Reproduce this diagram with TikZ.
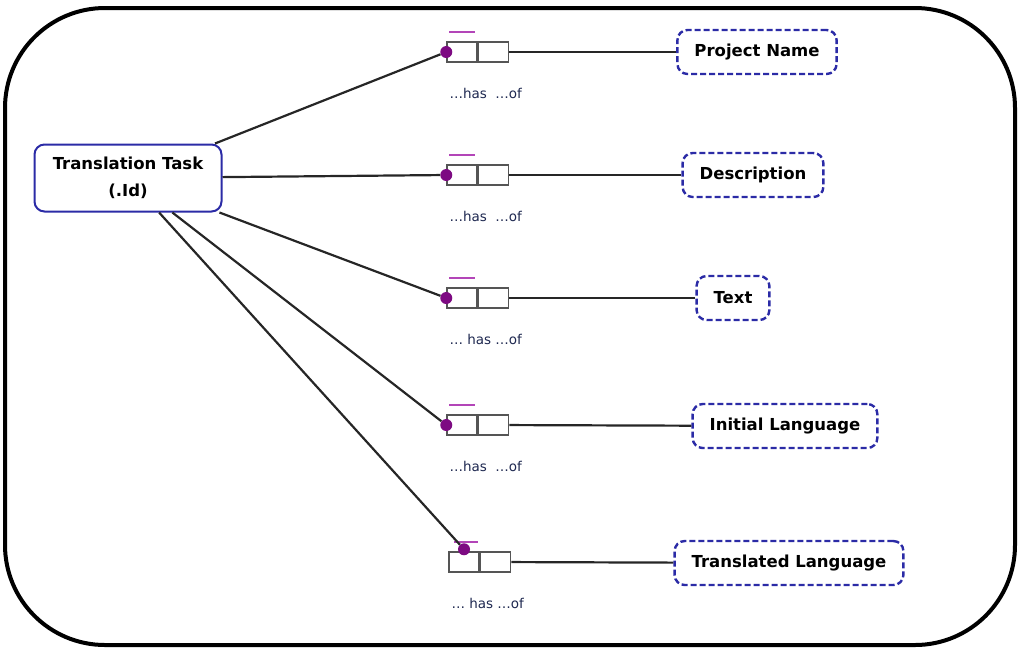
\documentclass[tikz,border=0pt]{standalone}
\usepackage{fontspec}
\setmainfont{DejaVu Sans}
\usetikzlibrary{positioning}

\definecolor{ent_blue}{HTML}{2B2BA6}
\definecolor{dot_purple}{HTML}{7D0A82}
\definecolor{bar_purple}{HTML}{B345B8}
\definecolor{cell_grey}{HTML}{555555}
\definecolor{label_ink}{HTML}{1E2850}

\begin{document}
\begin{tikzpicture}[x=1pt,y=-1pt,
	main_node/.style={draw=ent_blue,line width=2pt,rounded corners=10pt,fill=white,minimum width=187pt,minimum height=67pt,align=center,font=\bfseries\fontsize{16.5}{27}\selectfont},
	value_node/.style={draw=ent_blue,line width=2.4pt,dash pattern=on 6pt off 3pt,rounded corners=10pt,fill=white,minimum height=44pt,inner xsep=17pt,font=\bfseries\fontsize{16.5}{18}\selectfont},
	role_cell/.style={draw=cell_grey,line width=1.5pt,fill=white,minimum width=30pt,minimum height=20pt,inner sep=0pt},
	role_dot/.style={circle,fill=dot_purple,minimum size=12pt,inner sep=0pt},
	role_label/.style={text=label_ink,font=\fontsize{13.5}{15}\selectfont,inner sep=0pt},
	link/.style={line width=2.2pt,black!85},
	bar_line/.style={line width=1.6pt,bar_purple}]

	\useasboundingbox (0,0) rectangle (1019,649);
	\draw[line width=4pt,rounded corners=100pt] (5,8) rectangle (1015,645);

	\node[main_node] (tt) at (128,178) {Translation Task\\(.Id)};

	% role boxes
	\node[role_cell] (r1a) at (462,52) {};
	\node[role_cell,anchor=west] (r1b) at (r1a.east) {};
	\node[role_cell] (r2a) at (462,175) {};
	\node[role_cell,anchor=west] (r2b) at (r2a.east) {};
	\node[role_cell] (r3a) at (462,298) {};
	\node[role_cell,anchor=west] (r3b) at (r3a.east) {};
	\node[role_cell] (r4a) at (462,425) {};
	\node[role_cell,anchor=west] (r4b) at (r4a.east) {};
	\node[role_cell] (r5a) at (464,562) {};
	\node[role_cell,anchor=west] (r5b) at (r5a.east) {};

	\draw[bar_line] ([xshift=3pt,yshift=9pt]r1a.north west) -- ([xshift=-3pt,yshift=9pt]r1a.north east);
	\draw[bar_line] ([xshift=3pt,yshift=9pt]r2a.north west) -- ([xshift=-3pt,yshift=9pt]r2a.north east);
	\draw[bar_line] ([xshift=3pt,yshift=9pt]r3a.north west) -- ([xshift=-3pt,yshift=9pt]r3a.north east);
	\draw[bar_line] ([xshift=3pt,yshift=9pt]r4a.north west) -- ([xshift=-3pt,yshift=9pt]r4a.north east);
	\draw[bar_line] ([xshift=6pt,yshift=9pt]r5a.north west) -- ([xshift=-2pt,yshift=9pt]r5a.north east);

	\node[role_dot] (d1) at (r1a.west) {};
	\node[role_dot] (d2) at (r2a.west) {};
	\node[role_dot] (d3) at (r3a.west) {};
	\node[role_dot] (d4) at (r4a.west) {};
	\node[role_dot] (d5) at ([yshift=2pt]r5a.north) {};

	\node[role_label,below=25pt of r1b.south west,xshift=8pt] (l1) {…has\ \ …of};
	\node[role_label,below=25pt of r2b.south west,xshift=8pt] (l2) {…has\ \ …of};
	\node[role_label,below=25pt of r3b.south west,xshift=8pt] (l3) {… has …of};
	\node[role_label,below=25pt of r4b.south west,xshift=8pt] (l4) {…has\ \ …of};
	\node[role_label,below=25pt of r5b.south west,xshift=8pt] (l5) {… has …of};

	% value types
	\node[value_node] (pn) at (757,52) {Project Name};
	\node[value_node] (de) at (753,175) {Description};
	\node[value_node] (tx) at (733,298) {Text};
	\node[value_node] (il) at (785,426) {Initial Language};
	\node[value_node] (tl) at (789,563) {Translated Language};

	\draw[link] (tt) -- (d1);
	\draw[link] (tt) -- (d2);
	\draw[link] (tt) -- (d3);
	\draw[link] (tt) -- (d4);
	\draw[link] (tt) -- (d5);
	\draw[link] (r1b) -- (pn);
	\draw[link] (r2b) -- (de);
	\draw[link] (r3b) -- (tx);
	\draw[link] (r4b) -- (il);
	\draw[link] (r5b) -- (tl);
\end{tikzpicture}
\end{document}
